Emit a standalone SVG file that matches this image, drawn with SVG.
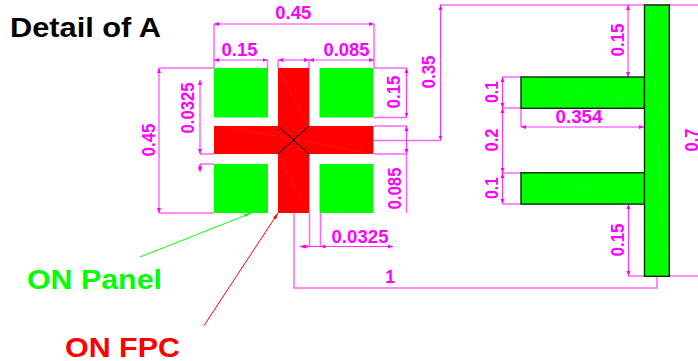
<svg xmlns="http://www.w3.org/2000/svg" width="698" height="361" viewBox="0 0 698 361">
<defs>
<marker id="a" markerUnits="userSpaceOnUse" markerWidth="6" markerHeight="5" refX="5" refY="2.500" orient="auto-start-reverse"><path d="M0 .5L5 2.500L0 4.500Z" fill="#f0f"/></marker>
</defs>
<style>
text{font-family:"Liberation Sans",Arial,sans-serif;font-weight:bold}
.d{fill:#f0f;font-size:17.500px;text-anchor:middle}
.v{fill:#f0f;font-size:18.500px;text-anchor:middle}
.g{fill:#0f0}
.r{fill:#f00}
.k{stroke:#0a2a0a;stroke-width:1.400}
.s{fill:none;stroke:#fff;stroke-opacity:.1;stroke-width:.8}
.e path{fill:none;stroke:#ff66ff;stroke-width:1.500}
.m path{fill:none;stroke:#ff33ff;stroke-width:1.100;marker-start:url(#a);marker-end:url(#a)}
</style>
<rect width="698" height="361" fill="#fff"/>
<g id="title"><text x="10" y="36.700" font-size="27" fill="#000" textLength="151" lengthAdjust="spacingAndGlyphs">Detail of A</text></g>
<g id="connectors">
<g id="extensions" class="e">
<path d="M214 68V24M374 68V24M267.500 68V60M214 68V60M278 68V60M309 68V60"/>
<path d="M214 68H159M214 213H159"/>
<path d="M214 154H200M214 164H200"/>
<path d="M374 68H406.500M374 117.500H406.500M374 126H406.500M374 154H406.500M406.500 213V154"/>
<path d="M373 140.500H440.500M440 5H698"/>
<path d="M309.500 213V247M320.500 213V247M294 213V288H657V276"/>
<path d="M628 276H698"/>
<path d="M521 77H502.500M521 108H502.500M521 173H502.500M521 204H502.500M521 108V127"/>
</g>
<g id="dimensions" class="m">
<path d="M214 24H374"/>
<path d="M214 60H267.500"/>
<path d="M278 60H309"/>
<path d="M309 60H374"/>
<path d="M159 68V213"/>
<path d="M200 154V80"/>
<path d="M200 164V172"/>
<path d="M406.500 68V117.500"/>
<path d="M406.500 126V154"/>
<path d="M440.500 5V140.500"/>
<path d="M300 246.500H309.500"/>
<path d="M309.500 246.500H320.500" style="marker:none"/>
<path d="M393 246.500H320.500"/>
<path d="M628 5V77"/>
<path d="M628.500 204V276"/>
<path d="M502.500 77V108"/>
<path d="M502.500 108V173"/>
<path d="M502.500 173V204"/>
<path d="M521 127H644"/>
</g>
<g id="leaders">
<path d="M140 257L251.500 213" stroke="#0f0" fill="none"/>
<path d="M204 325.500L278 213" stroke="#f00" fill="none"/>
<path d="M251.500 213L245.500 217L244 214Z" class="g"/>
<path d="M278 213L276 219.500L273 217.500Z" class="r"/>
</g>
</g>
<g id="pad-top-left"><rect class="g" x="214" y="68" width="54" height="49.500"/></g>
<g id="pad-top-right"><rect class="g" x="319.500" y="68" width="54" height="49.500"/></g>
<g id="pad-bottom-left"><rect class="g" x="214" y="164" width="54" height="49"/></g>
<g id="pad-bottom-right"><rect class="g" x="319.500" y="164" width="54" height="49"/></g>
<g id="fpc-cross">
<rect class="r" x="278" y="68" width="31" height="145"/>
<rect class="r" x="214" y="126" width="159.500" height="28"/>
<path class="s" d="M278 68L309 126M223 126L373 154M278 154L309 213"/>
<path d="M309.300 68V126M309.300 154V213" stroke="#a33" stroke-opacity=".7" fill="none" stroke-width=".8"/>
<path d="M278 126L309 154M309 126L278 154" stroke="#000" fill="none" stroke-width="1"/>
</g>
<g id="t-upper-arm"><rect class="g k" x="521" y="77" width="123.500" height="31.300"/><path class="s" d="M530 77L644 108"/></g>
<g id="t-lower-arm"><rect class="g k" x="521" y="172.800" width="123.500" height="31.300"/><path class="s" d="M530 173L630 204"/></g>
<g id="t-bar"><rect class="g k" x="644.500" y="5" width="24.800" height="271.300"/><path class="s" d="M650 5L666 276"/></g>
<g id="dim-labels">
<text class="d" x="293.300" y="19.300" textLength="36" lengthAdjust="spacingAndGlyphs">0.45</text>
<text class="d" x="239.500" y="56" textLength="36" lengthAdjust="spacingAndGlyphs">0.15</text>
<text class="d" x="346.500" y="56" textLength="46" lengthAdjust="spacingAndGlyphs">0.085</text>
<text class="v" transform="translate(155 140) rotate(-90)" textLength="33" lengthAdjust="spacingAndGlyphs">0.45</text>
<text class="v" transform="translate(194 108) rotate(-90)" textLength="51" lengthAdjust="spacingAndGlyphs">0.0325</text>
<text class="v" transform="translate(400 92) rotate(-90)" textLength="33" lengthAdjust="spacingAndGlyphs">0.15</text>
<text class="v" transform="translate(400.700 188.500) rotate(-90)" textLength="42" lengthAdjust="spacingAndGlyphs">0.085</text>
<text class="v" transform="translate(435 72) rotate(-90)" textLength="33" lengthAdjust="spacingAndGlyphs">0.35</text>
<text class="d" x="360" y="242.700" textLength="57" lengthAdjust="spacingAndGlyphs">0.0325</text>
<text class="d" x="390" y="283.300">1</text>
<text class="d" x="579" y="122.700" textLength="47" lengthAdjust="spacingAndGlyphs">0.354</text>
<text class="v" transform="translate(623.500 40) rotate(-90)" textLength="33" lengthAdjust="spacingAndGlyphs">0.15</text>
<text class="v" transform="translate(623.500 240) rotate(-90)" textLength="33" lengthAdjust="spacingAndGlyphs">0.15</text>
<text class="v" transform="translate(498 92) rotate(-90)" textLength="22" lengthAdjust="spacingAndGlyphs">0.1</text>
<text class="v" transform="translate(498 140) rotate(-90)" textLength="23" lengthAdjust="spacingAndGlyphs">0.2</text>
<text class="v" transform="translate(498 188) rotate(-90)" textLength="22" lengthAdjust="spacingAndGlyphs">0.1</text>
<text class="v" transform="translate(697.500 140) rotate(-90)" textLength="23" lengthAdjust="spacingAndGlyphs">0.7</text>
</g>
<g id="callouts">
<text x="27" y="289" font-size="27" fill="#0f0" textLength="135" lengthAdjust="spacingAndGlyphs">ON Panel</text>
<text x="65" y="356.700" font-size="27" fill="#f00" textLength="115" lengthAdjust="spacingAndGlyphs">ON FPC</text>
</g>
</svg>
